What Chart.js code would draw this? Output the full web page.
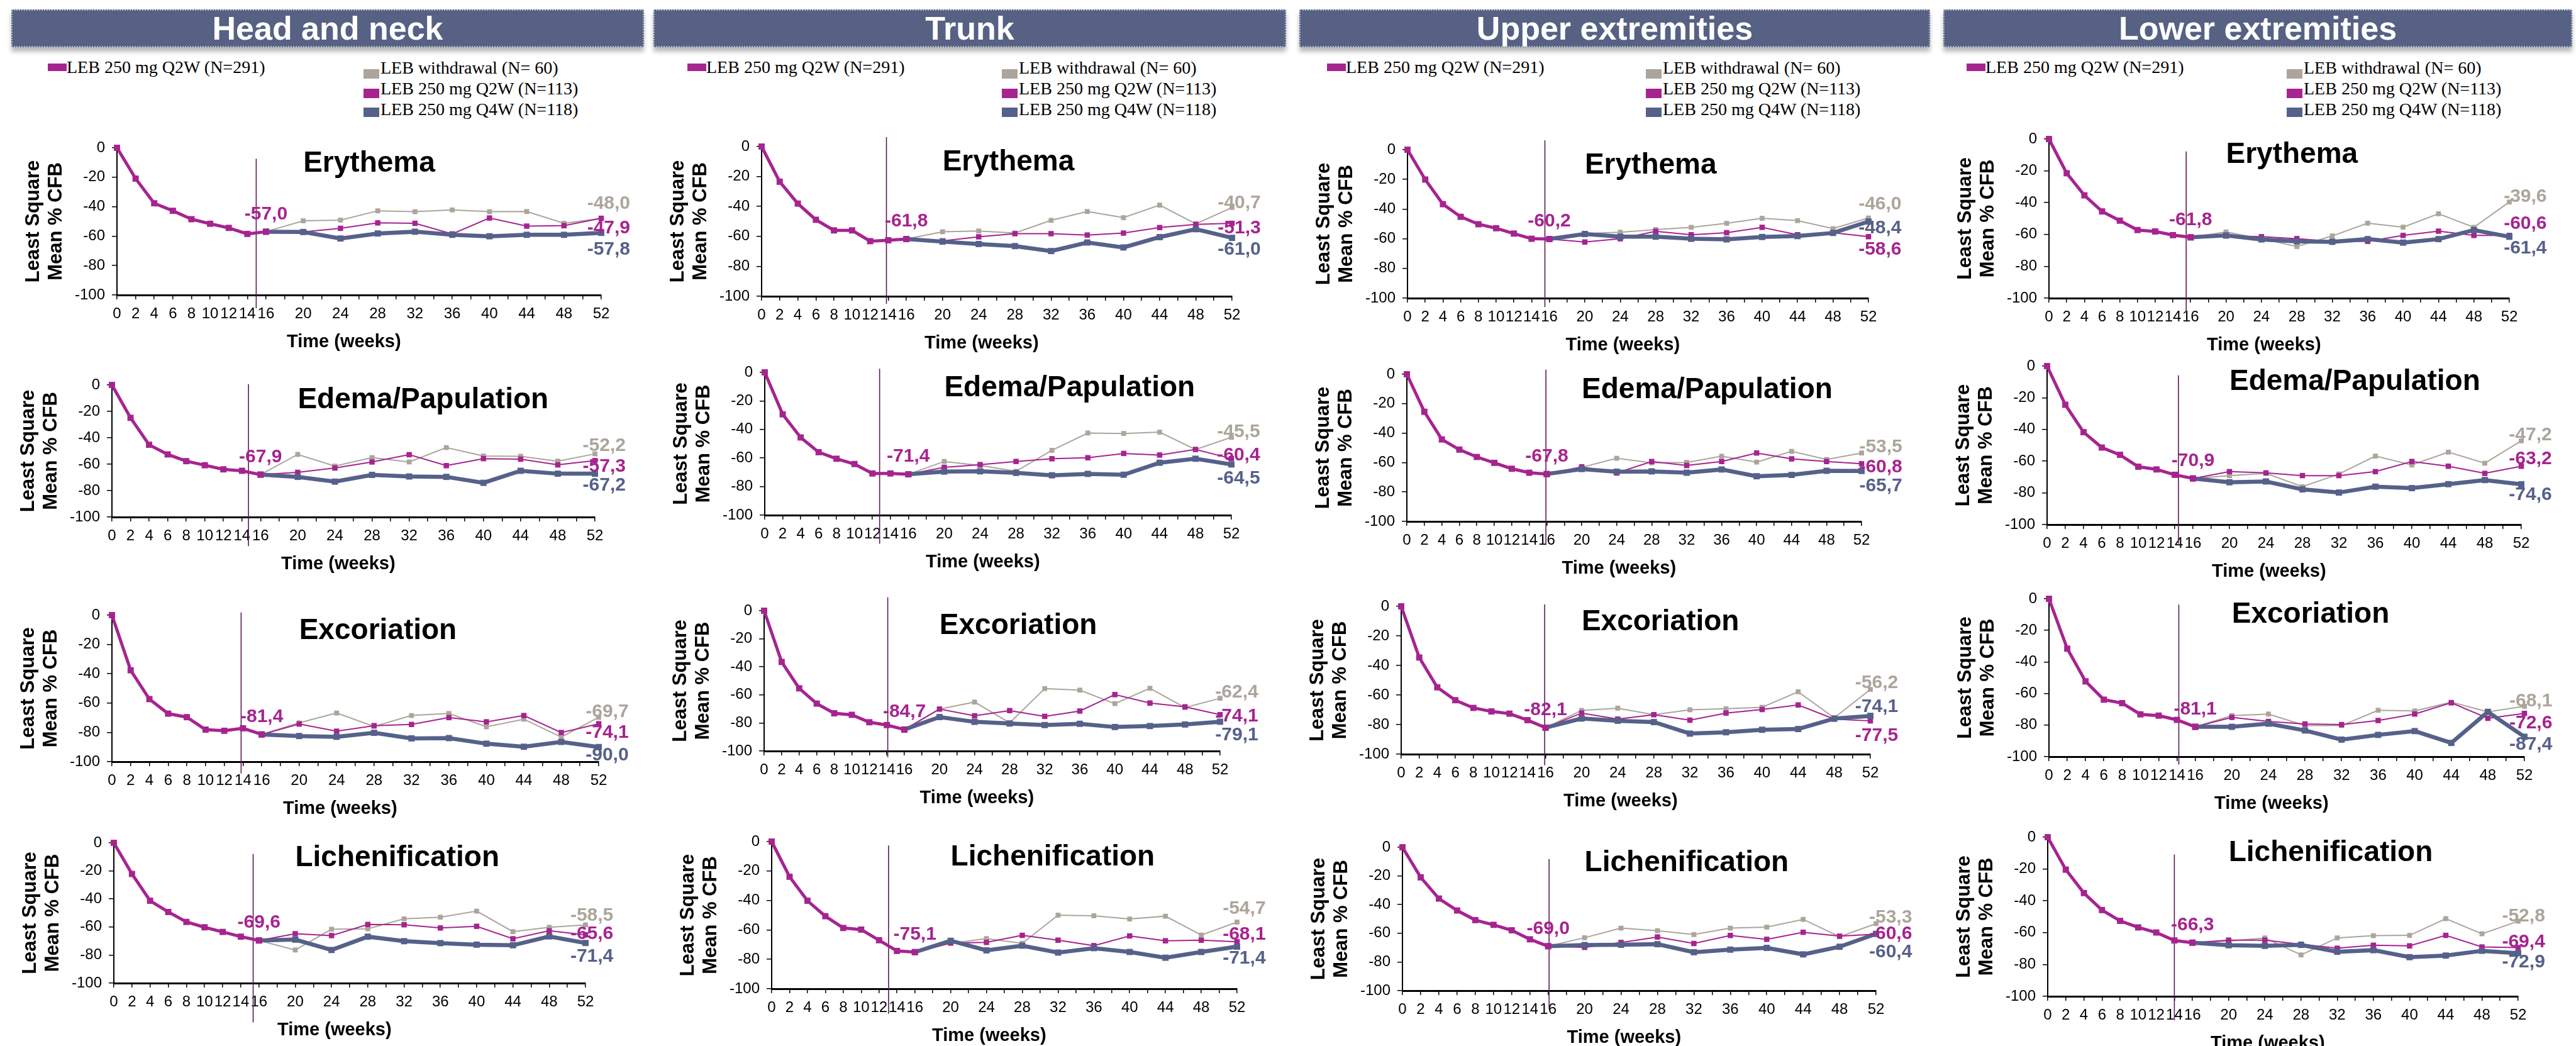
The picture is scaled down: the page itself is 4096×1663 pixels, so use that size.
<!DOCTYPE html>
<html>
<head>
<meta charset="utf-8">
<script src="https://cdn.jsdelivr.net/npm/chart.js@4.4.0/dist/chart.umd.min.js"></script>
<style>
  html, body { margin: 0; padding: 0; background: #fff; }
  body { width: 4096px; height: 1663px; position: relative; overflow: hidden;
         font-family: 'Liberation Sans', Arial, sans-serif; }
  .hdr { position: absolute; top: 15px; height: 60px; line-height: 56px; box-sizing: border-box;
         background: #566184; color: #fff; font-weight: bold; font-size: 52px; text-align: center;
         border: 2px dotted rgba(255,255,255,0.55); box-shadow: 0 7px 7px rgba(0,0,0,0.28); }
  .leg { position: absolute; font-family: 'Liberation Serif', 'Times New Roman', serif;
         font-size: 28px; line-height: 30px; color: #000; white-space: nowrap; }
  .sw { position: absolute; }
  canvas { position: absolute; }
</style>
</head>
<body>
<script>
/* ── data ─────────────────────────────────────────────────────── */
const regions = ['Head and neck', 'Trunk', 'Upper extremities', 'Lower extremities'];
const signs = ['Erythema', 'Edema/Papulation', 'Excoriation', 'Lichenification'];
const weeksInduction = [0, 2, 4, 6, 8, 10, 12, 14, 16];
const weeksMaint = [16, 20, 24, 28, 32, 36, 40, 44, 48, 52];
const seriesNames = ['LEB 250 mg Q2W (N=291)', 'LEB withdrawal (N= 60)', 'LEB 250 mg Q2W (N=113)', 'LEB 250 mg Q4W (N=118)'];

// LEB 250 mg Q2W (N=291), weeks 0-16; one row per sign
const headInduction = [
  [0, -20.9, -37.7, -42.8, -48.5, -51.6, -54.4, -58.5, -57.0],
  [0, -24.9, -45.3, -52.6, -57.7, -60.8, -63.9, -65.0, -67.9],
  [0, -37.6, -57.3, -67.2, -69.6, -78.1, -78.9, -77.2, -81.4],
  [0, -22.2, -41.3, -49.3, -56.4, -60.2, -63.5, -66.9, -69.6]
];
const trunkInduction = [
  [0, -23.5, -38.1, -48.9, -56.0, -56.0, -63.2, -62.6, -61.8],
  [0, -29.4, -45.6, -55.9, -60.5, -64.2, -70.8, -70.8, -71.4],
  [0, -36.5, -55.3, -66.2, -73.1, -74.2, -79.5, -81.5, -84.7],
  [0, -23.9, -40.2, -50.7, -58.7, -59.8, -67.0, -74.3, -75.1]
];
const upperInduction = [
  [0, -20.1, -36.7, -45.2, -50.2, -52.9, -56.5, -60.0, -60.2],
  [0, -25.5, -44.3, -51.2, -56.2, -60.2, -64.2, -66.9, -67.8],
  [0, -34.6, -54.8, -63.5, -68.7, -71.1, -72.6, -77.0, -82.1],
  [0, -21.0, -35.8, -44.1, -50.8, -54.1, -57.9, -64.2, -69.0]
];
const lowerInduction = [
  [0, -21.5, -35.4, -45.5, -51.3, -57.2, -58.1, -60.4, -61.8],
  [0, -24.4, -41.7, -51.4, -56.0, -63.5, -65.2, -68.6, -70.9],
  [0, -31.6, -52.3, -63.9, -66.1, -73.2, -74.0, -76.7, -81.1],
  [0, -20.4, -35.1, -45.8, -52.6, -56.7, -59.9, -64.9, -66.3]
];

// LEB withdrawal (N= 60), weeks 16-52
const headWithdrawal = [
  [-57.0, -49.6, -49.1, -42.8, -43.4, -42.2, -43.4, -43.3, -51.3, -48.0],
  [-67.9, -52.6, -61.4, -55.0, -58.3, -47.4, -53.8, -54.0, -57.7, -52.2],
  [-81.4, -73.5, -66.8, -75.9, -68.5, -67.1, -76.2, -71.0, -83.2, -69.7],
  [-69.6, -76.4, -61.6, -61.3, -54.2, -53.0, -48.7, -63.3, -60.2, -58.5]
];
const trunkWithdrawal = [
  [-61.8, -56.9, -56.4, -57.8, -49.3, -43.4, -47.5, -39.1, -51.6, -40.7],
  [-71.4, -62.4, -65.2, -69.3, -54.6, -42.5, -42.8, -41.9, -54.0, -45.5],
  [-84.7, -70.1, -65.1, -79.9, -55.5, -56.6, -66.2, -55.3, -69.0, -62.4],
  [-75.1, -69.1, -65.9, -69.1, -50.0, -50.4, -52.6, -50.7, -63.5, -54.7]
];
const upperWithdrawal = [
  [-60.2, -56.5, -55.6, -53.8, -52.3, -49.6, -46.2, -47.8, -53.2, -46.0],
  [-67.8, -63.3, -57.1, -60.2, -59.9, -55.7, -59.7, -52.4, -57.9, -53.5],
  [-82.1, -70.4, -68.9, -73.3, -70.0, -69.3, -68.3, -57.8, -75.4, -56.2],
  [-69.0, -63.1, -56.4, -58.2, -60.9, -56.4, -55.7, -50.3, -62.4, -53.3]
];
const lowerWithdrawal = [
  [-61.8, -58.4, -62.6, -67.6, -60.9, -52.9, -55.4, -47.0, -55.5, -39.6],
  [-70.9, -69.1, -67.7, -76.1, -68.1, -56.8, -62.4, -54.3, -61.3, -47.2],
  [-81.1, -74.0, -73.0, -80.3, -80.3, -70.6, -71.0, -65.5, -71.6, -68.1],
  [-66.3, -65.3, -63.3, -74.0, -63.3, -61.9, -61.7, -51.2, -60.7, -52.8]
];

// LEB 250 mg Q2W (N=113), weeks 16-52
const headQ2W = [
  [-57.0, -57.2, -54.7, -51.0, -51.3, -58.5, -47.7, -53.2, -52.9, -47.9],
  [-67.9, -66.2, -62.9, -58.3, -52.8, -61.1, -55.8, -56.2, -60.5, -57.3],
  [-81.4, -74.3, -79.2, -75.4, -74.6, -69.9, -72.8, -68.5, -80.1, -74.1],
  [-69.6, -64.8, -66.1, -58.2, -58.4, -60.7, -59.5, -68.4, -62.7, -65.6]
];
const trunkQ2W = [
  [-61.8, -63.0, -60.3, -58.2, -58.2, -59.1, -57.8, -54.1, -52.0, -51.3],
  [-71.4, -66.5, -64.6, -62.4, -60.5, -59.8, -56.8, -57.9, -54.0, -60.4],
  [-84.7, -70.1, -74.9, -71.2, -75.3, -71.5, -59.8, -65.8, -68.5, -74.1],
  [-75.1, -68.9, -68.5, -63.7, -67.0, -70.7, -64.1, -67.4, -67.0, -68.1]
];
const upperQ2W = [
  [-60.2, -62.2, -60.0, -55.0, -57.3, -55.9, -52.3, -57.3, -55.9, -58.6],
  [-67.8, -62.9, -67.1, -59.3, -62.0, -59.3, -53.5, -57.5, -59.3, -60.8],
  [-82.1, -72.2, -76.3, -73.3, -77.0, -72.2, -69.8, -66.7, -76.3, -77.5],
  [-69.0, -69.8, -66.4, -62.6, -67.1, -61.5, -64.2, -59.3, -62.0, -60.6]
];
const lowerQ2W = [
  [-61.8, -60.9, -61.4, -62.6, -64.3, -64.3, -60.6, -57.9, -60.6, -60.6],
  [-70.9, -66.6, -67.4, -69.1, -69.1, -66.6, -60.2, -63.2, -67.7, -63.2],
  [-81.1, -75.1, -77.7, -79.3, -79.7, -77.1, -73.0, -65.9, -75.7, -72.6],
  [-66.3, -64.7, -64.7, -67.3, -69.8, -67.9, -68.3, -61.7, -69.0, -69.4]
];

// LEB 250 mg Q4W (N=118), weeks 16-52
const headQ4W = [
  [-57.0, -57.2, -61.6, -58.2, -57.0, -59.1, -60.1, -59.1, -59.1, -57.8],
  [-67.9, -69.6, -73.2, -68.1, -69.3, -69.6, -74.1, -65.0, -67.2, -67.2],
  [-81.4, -82.5, -83.0, -80.3, -84.1, -83.9, -87.7, -89.8, -86.5, -90.0],
  [-69.6, -69.0, -76.4, -66.9, -70.1, -71.5, -72.6, -73.0, -66.7, -71.4]
];
const trunkQ4W = [
  [-61.8, -63.5, -65.1, -66.5, -69.8, -64.1, -67.4, -60.5, -55.2, -61.0],
  [-71.4, -69.5, -69.3, -70.4, -72.1, -71.1, -71.7, -63.3, -60.5, -64.5],
  [-84.7, -75.8, -79.2, -80.4, -81.5, -80.6, -82.9, -82.2, -81.1, -79.1],
  [-75.1, -67.4, -73.9, -70.7, -75.4, -72.4, -75.0, -78.9, -75.0, -71.4]
];
const upperQ4W = [
  [-60.2, -56.8, -58.6, -58.6, -60.0, -60.4, -58.8, -58.2, -56.1, -48.4],
  [-67.8, -64.4, -66.2, -66.0, -66.9, -64.7, -69.3, -68.4, -65.6, -65.7],
  [-82.1, -75.9, -77.4, -78.3, -86.1, -85.2, -83.5, -83.0, -75.9, -74.1],
  [-69.0, -68.2, -68.0, -67.6, -73.2, -71.4, -70.2, -74.7, -69.4, -60.4]
];
const lowerQ4W = [
  [-61.8, -60.6, -63.1, -64.3, -64.6, -62.9, -65.1, -62.9, -57.2, -61.4],
  [-70.9, -73.3, -72.8, -77.8, -79.8, -76.1, -77.0, -74.5, -71.9, -74.6],
  [-81.1, -81.1, -79.1, -83.4, -89.2, -86.2, -83.8, -91.3, -71.6, -87.4],
  [-66.3, -67.9, -68.3, -67.7, -72.0, -71.0, -75.4, -74.4, -71.4, -72.9]
];

const inductionAll = [headInduction, trunkInduction, upperInduction, lowerInduction];
const withdrawalAll = [headWithdrawal, trunkWithdrawal, upperWithdrawal, lowerWithdrawal];
const q2wAll = [headQ2W, trunkQ2W, upperQ2W, lowerQ2W];
const q4wAll = [headQ4W, trunkQ4W, upperQ4W, lowerQ4W];

/* ── layout (pixels in the 4096x1663 window) ──────────────────── */
const hdrBoxes = [[18, 1006], [1039, 1006], [2066, 1003], [3090, 1000]];
const legLeftX = [76, 1093, 2110, 3127];
const legRightX = [578, 1593, 2617, 3636];

// plot area of each panel: [x of week 0, x of week 52, y of 0, y of -100]
const plotBoxes = [
  [[186, 956, 235, 469], [178, 946, 612, 822], [178, 952, 978, 1211], [181, 931, 1340, 1563]],
  [[1211, 1959, 233, 471], [1216, 1958, 592, 819], [1215, 1940, 971, 1194], [1227, 1967, 1338, 1572]],
  [[2238, 2971, 238, 474], [2237, 2960, 595, 829], [2228, 2974, 964, 1199], [2230, 2983, 1347, 1575]],
  [[3258, 3990, 221, 474], [3255, 4009, 582, 834], [3258, 4014, 952, 1203], [3256, 4004, 1331, 1584]]
];
// vertical marker: [week, top value, bottom value]
const vLines = [
  [[14.95, -7.4, -109], [14.7, 0.6, -122], [13.8, 1.8, -108], [15.36, -8, -128]],
  [[13.8, 6.3, -105], [12.8, 2.5, -120], [14.1, 9.6, -104.5], [13.06, -2.7, -117]],
  [[15.5, 6.3, -106], [15.9, 3.1, -116], [15.9, 1.3, -107.6], [16.1, -8.2, -112.7]],
  [[15.5, -7.8, -109], [14.4, -5.9, -112], [14.2, -3.7, -105], [14.0, -10.9, -115]]
];
// end-of-line label centres: [week, y withdrawal, y Q2W, y Q4W]
const endLabelPos = [
  [[52.8, -38.0, -54.4, -69.0], [53.0, -45.9, -61.7, -76.3], [52.9, -66.0, -80.3, -95.4], [52.7, -51.9, -65.0, -81.0]],
  [[52.8, -37.7, -54.6, -68.9], [52.8, -41.9, -58.1, -74.5], [53.9, -58.2, -75.3, -88.6], [52.8, -45.7, -63.0, -79.3]],
  [[53.3, -36.7, -67.2, -52.9], [54.2, -49.4, -63.3, -75.9], [52.7, -52.0, -87.4, -67.8], [53.6, -49.2, -60.4, -73.2]],
  [[53.8, -36.2, -53.4, -68.5], [53.0, -43.7, -58.8, -81.2], [52.7, -64.9, -78.7, -92.5], [52.6, -49.6, -65.9, -78.4]]
];

const FONT = "'Liberation Sans', Arial, sans-serif";
const MAGENTA = '#a6248f';
const GRAY = '#aca59b';
const BLUE = '#56618a';
const VLINE = '#5c1a55';
const W_Y = 160, PAD_T = 40, PAD_R = 75, H_X = 95;

const fmt = v => v.toFixed(1).replace('.', ',');
const pts = (weeks, vals) => vals.map((v, i) => ({ x: weeks[i], y: v }));

/* ── headers and legends ──────────────────────────────────────── */
function el(tag, cls, css, text) {
  const e = document.createElement(tag);
  if (cls) e.className = cls;
  Object.assign(e.style, css);
  if (text) e.textContent = text;
  document.body.appendChild(e);
  return e;
}

regions.forEach((name, c) => {
  el('div', 'hdr', { left: hdrBoxes[c][0] + 'px', width: hdrBoxes[c][1] + 'px' }, name);

  const lx = legLeftX[c];
  el('div', 'sw', { left: lx + 'px', top: '101px', width: '30px', height: '12px', background: MAGENTA });
  el('div', 'leg', { left: (lx + 30) + 'px', top: '92px' }, seriesNames[0]);

  const rx = legRightX[c];
  const swTops = [110, 141, 171];
  const txtTops = [93, 126, 159];
  [GRAY, MAGENTA, BLUE].forEach((col, i) => {
    el('div', 'sw', { left: rx + 'px', top: swTops[i] + 'px', width: '25px', height: '15px', background: col });
    el('div', 'leg', { left: (rx + 27) + 'px', top: txtTops[i] + 'px' }, seriesNames[i + 1]);
  });
});

/* ── panel annotations: marker line, sign name, value labels ──── */
const panelNotes = {
  id: 'panelNotes',
  beforeDatasetsDraw(chart, args, o) {
    const { ctx, scales: { x, y } } = chart;
    const px = x.getPixelForValue(o.vline[0]);
    ctx.save();
    ctx.strokeStyle = VLINE;
    ctx.lineWidth = 1.6;
    ctx.beginPath();
    ctx.moveTo(px, y.getPixelForValue(o.vline[1]));
    ctx.lineTo(px, y.getPixelForValue(o.vline[2]));
    ctx.stroke();
    ctx.restore();
  },
  afterDatasetsDraw(chart, args, o) {
    const { ctx, scales: { x, y } } = chart;
    ctx.save();
    ctx.fillStyle = '#000';
    ctx.font = 'bold 46px ' + FONT;
    ctx.textAlign = 'left';
    ctx.textBaseline = 'alphabetic';
    ctx.fillText(o.title, x.getPixelForValue(20), y.getPixelForValue(-2) + 33);

    ctx.font = 'bold 30px ' + FONT;
    ctx.textAlign = 'center';
    ctx.textBaseline = 'middle';
    ctx.fillStyle = MAGENTA;
    ctx.fillText(fmt(o.startVal), x.getPixelForValue(16), y.getPixelForValue(o.startVal) - 28);

    const lx = x.getPixelForValue(o.ends.pos[0]);
    o.ends.values.forEach((v, i) => {
      ctx.fillStyle = [GRAY, MAGENTA, BLUE][i];
      ctx.fillText(fmt(v), lx, y.getPixelForValue(o.ends.pos[i + 1]));
    });
    ctx.restore();
  }
};

/* ── charts ───────────────────────────────────────────────────── */
function makePanel(c, r) {
  const [x0, x52, y0, y100] = plotBoxes[c][r];
  const cv = document.createElement('canvas');
  cv.width = x52 - x0 + W_Y + PAD_R;
  cv.height = y100 - y0 + PAD_T + H_X;
  cv.style.left = (x0 - W_Y) + 'px';
  cv.style.top = (y0 - PAD_T) + 'px';
  document.body.appendChild(cv);

  const ind = inductionAll[c][r];
  const wd = withdrawalAll[c][r];
  const q2 = q2wAll[c][r];
  const q4 = q4wAll[c][r];

  const line = (label, data, color, width, radius, order) => ({
    label, data, order,
    borderColor: color, backgroundColor: color,
    pointBackgroundColor: color, pointBorderColor: color, pointBorderWidth: 0,
    borderWidth: width, pointStyle: 'rect', pointRadius: radius,
    tension: 0, clip: false
  });

  new Chart(cv.getContext('2d'), {
    type: 'line',
    data: {
      datasets: [
        line(seriesNames[0], pts(weeksInduction, ind), MAGENTA, 5, 7, 0),
        line(seriesNames[3], pts(weeksMaint, q4), BLUE, 6.5, 7, 1),
        line(seriesNames[2], pts(weeksMaint, q2), MAGENTA, 2, 6, 2),
        line(seriesNames[1], pts(weeksMaint, wd), GRAY, 2, 5.5, 3)
      ]
    },
    options: {
      responsive: false,
      animation: false,
      devicePixelRatio: 1,
      layout: { padding: { left: 0, top: PAD_T, right: PAD_R, bottom: 0 } },
      plugins: {
        legend: { display: false },
        tooltip: { enabled: false },
        panelNotes: {
          title: signs[r],
          vline: vLines[c][r],
          startVal: ind[ind.length - 1],
          ends: { pos: endLabelPos[c][r], values: [wd[wd.length - 1], q2[q2.length - 1], q4[q4.length - 1]] }
        }
      },
      scales: {
        x: {
          type: 'linear', min: 0, max: 52,
          ticks: {
            stepSize: 2, autoSkip: false, maxRotation: 0, minRotation: 0, padding: 9,
            color: '#000', font: { family: FONT, size: 24 },
            callback: v => (v <= 16 || v % 4 === 0) ? String(v) : ''
          },
          grid: { display: true, drawOnChartArea: false, drawTicks: true, tickLength: 7, color: '#000', lineWidth: 1.5 },
          border: { display: true, color: '#000', width: 3 },
          title: {
            display: true, text: 'Time (weeks)      ', color: '#000',
            font: { family: FONT, size: 29, weight: 'bold' }, padding: { top: 0, bottom: 3 }
          },
          afterFit: s => { s.height = H_X; }
        },
        y: {
          min: -100, max: 0,
          ticks: { stepSize: 20, padding: 11, color: '#000', font: { family: FONT, size: 24 } },
          grid: { display: true, drawOnChartArea: false, drawTicks: true, tickLength: 8, color: '#000', lineWidth: 1.5 },
          border: { display: true, color: '#000', width: 2 },
          title: {
            display: true, text: ['Least Square', 'Mean % CFB'], color: '#000',
            font: { family: FONT, size: 31, weight: 'bold', lineHeight: 1.15 }, padding: { top: 10, bottom: 0 }
          },
          afterFit: s => { s.width = W_Y; }
        }
      }
    },
    plugins: [panelNotes]
  });
}

for (let c = 0; c < 4; c++) {
  for (let r = 0; r < 4; r++) makePanel(c, r);
}
</script>
</body>
</html>
